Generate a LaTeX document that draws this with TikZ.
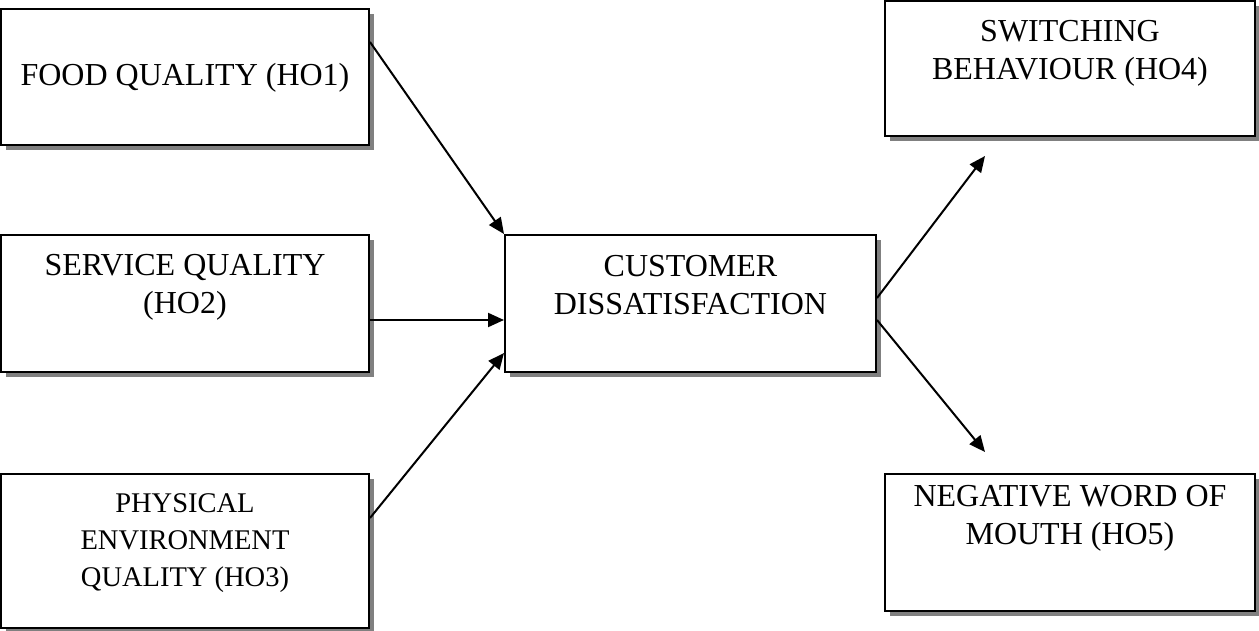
\documentclass[tikz,border=0pt]{standalone}
\usepackage{fontspec}
\setmainfont{Liberation Serif}
\usetikzlibrary{arrows.meta,shadows}
\tikzset{
  box/.style={draw=black, line width=2pt, fill=white, rectangle, inner sep=0pt,
    drop shadow={shadow xshift=5pt, shadow yshift=-5pt, fill=black!50, opacity=1}},
  lbl/.style={anchor=north, inner sep=0pt, align=center, font=\fontsize{32}{38}\selectfont},
  lblsmall/.style={anchor=north, inner sep=0pt, align=center, font=\fontsize{28.5}{37}\selectfont},
  arr/.style={line width=2pt, -{Triangle[length=16pt,width=14pt]}}
}
\begin{document}
\begin{tikzpicture}[x=1pt,y=-1pt]
\useasboundingbox (0,0) rectangle (1259,631);
% boxes
\node[box, minimum width=368pt, minimum height=136pt] (food) at (185,77) {};
\node[box, minimum width=368pt, minimum height=137pt] (service) at (185,303.5) {};
\node[box, minimum width=368pt, minimum height=154pt] (phys) at (185,551) {};
\node[box, minimum width=371pt, minimum height=137pt] (cust) at (690.5,303.5) {};
\node[box, minimum width=370pt, minimum height=135pt] (switch) at (1070,68.5) {};
\node[box, minimum width=370pt, minimum height=137pt] (neg) at (1070,542.5) {};
% labels
\node[lbl] (tfood) at (185,63) {FOOD QUALITY (HO1)};
\node[lbl] (tservice) at (185,254) {SERVICE QUALITY\\(HO2)};
\node[lblsmall] (tphys) at (185,493) {PHYSICAL\\ENVIRONMENT\\QUALITY (HO3)};
\node[lbl] (tcust) at (690.5,255) {CUSTOMER\\DISSATISFACTION};
\node[lbl] (tswitch) at (1070,20) {SWITCHING\\BEHAVIOUR (HO4)};
\node[lbl] (tneg) at (1070,485) {NEGATIVE WORD OF\\MOUTH (HO5)};
% arrows
\draw[arr] ([yshift=-34pt]food.north east) -- (cust.north west);
\draw[arr] ([yshift=-16.5pt]service.east) -- ([yshift=-16.5pt]cust.west);
\draw[arr] ([yshift=33pt]phys.east) -- ([yshift=20pt]cust.south west);
\coordinate (swtip) at ([xshift=-85pt,yshift=-19pt]switch.south);
\coordinate (negtip) at ([xshift=-85pt,yshift=21pt]neg.north);
\draw[arr] ([yshift=5.5pt]cust.east) -- (swtip);
\draw[arr] ([yshift=-16.5pt]cust.east) -- (negtip);
\end{tikzpicture}
\end{document}
